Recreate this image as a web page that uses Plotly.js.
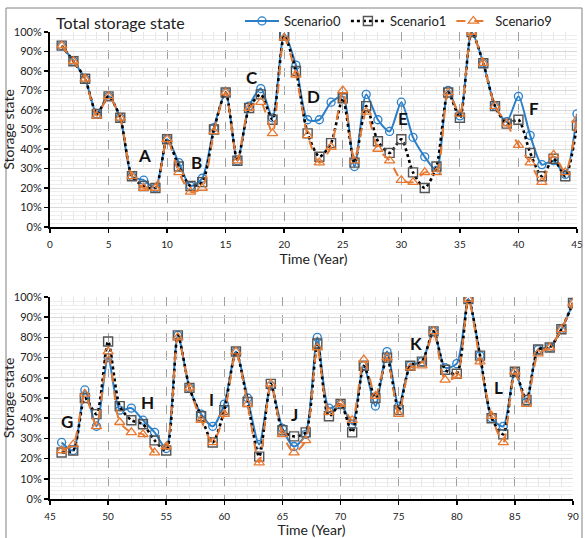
<!DOCTYPE html>
<html>
<head>
<meta charset="utf-8">
<script src="https://cdn.plot.ly/plotly-3.0.1.min.js"></script>
<style>html,body{margin:0;padding:0;background:#fff;}#chart{width:585px;height:538px;}</style>
</head>
<body>
<div id="chart"></div>
<script>
var yearsTop = [1,2,3,4,5,6,7,8,9,10,11,12,13,14,15,16,17,18,19,20,21,22,23,24,25,26,27,28,29,30,31,32,33,34,35,36,37,38,39,40,41,42,43,44,45];
var s0Top = [93,85,76,58,67,56,26,24,20,45,33,21,25,51,69,34,62,71,56,99,83,55,55,64,67,31,68,55,49,64,46,36,29,70,57,100,84,62,54,67,47,32,34,27,58];
var s1Top = [93,85,76,58,67,56,26,21,20,45,31,21,23,50,69,34,61,68,55,98,80,48,36,43,66,33,62,44,38,45,28,20,31,69,56,100,84,62,53,55,38,26,35,26,52];
var s9Top = [93,85,76,57,67,56,26,20,20,45,28,18,20,49,69,34,61,64,48,97,78,47,33,41,70,34,59,40,34,24,23,28,28,69,58,100,84,62,53,42,33,23,37,28,55];

var yearsBot = [46,47,48,49,50,51,52,53,54,55,56,57,58,59,60,61,62,63,64,65,66,67,68,69,70,71,72,73,74,75,76,77,78,79,80,81,82,83,84,85,86,87,88,89,90];
var s0Bot = [28,24,54,36,70,44,45,39,33,25,81,55,42,36,47,73,50,27,56,35,26,32,80,45,47,37,66,46,73,46,66,68,83,65,67,99,71,40,36,63,48,74,75,84,97];
var s1Bot = [23,24,50,42,78,46,39,37,29,24,81,55,41,28,44,73,48,21,57,34,31,33,77,41,47,33,66,50,70,44,66,68,83,64,62,99,71,40,32,63,49,74,75,84,97];
var s9Bot = [24,27,52,36,73,38,33,32,23,26,80,55,39,28,42,73,47,18,57,32,23,29,75,43,47,39,69,51,70,42,65,66,83,59,61,99,68,41,28,63,47,72,75,84,97];

var seriesNames = ['Scenario0','Scenario1','Scenario9'];
var xTicksTop = [0,5,10,15,20,25,30,35,40,45];
var xTicksBot = [45,50,55,60,65,70,75,80,85,90];

var labelsTop = ['A','B','C','D','E','F'];
var labelTopX = [8.1,12.55,17.25,22.5,30.1,41.3];
var labelTopY = [36.5,33,76.5,67,55.5,61];
var labelsBot = ['G','H','I','J','K','L'];
var labelBotX = [46.5,53.4,58.9,66.0,76.5,83.6];
var labelBotY = [38.5,48,49.5,42,77,55];

var BLUE = '#2a7fc8', ORANGE = '#e8782f', GRAYM = '#555555';
var FONT = 'Lato, Open Sans, sans-serif';

function styles(i){
  if(i===0) return {line:{color:BLUE,width:2,shape:'spline',smoothing:0.7},
    marker:{symbol:'circle-open',size:8,color:BLUE,line:{width:1.3,color:BLUE}}};
  if(i===1) return {line:{color:'#000000',width:2.6,dash:'dot',shape:'spline',smoothing:0.7},
    marker:{symbol:'square-open',size:9,color:GRAYM,line:{width:1.4,color:GRAYM}}};
  return {line:{color:ORANGE,width:2,dash:'dash',shape:'spline',smoothing:0.7},
    marker:{symbol:'triangle-up-open',size:9,color:ORANGE,line:{width:1.3,color:ORANGE}}};
}

var dataTop = [s0Top,s1Top,s9Top];
var dataBot = [s0Bot,s1Bot,s9Bot];
var traces = [];
for (var i=0;i<3;i++){
  var st = styles(i);
  traces.push({x:yearsTop,y:dataTop[i],type:'scatter',mode:'lines+markers',name:seriesNames[i],
    line:st.line,marker:st.marker,xaxis:'x',yaxis:'y',legendgroup:seriesNames[i]});
}
for (var j=0;j<3;j++){
  var st2 = styles(j);
  traces.push({x:yearsBot,y:dataBot[j],type:'scatter',mode:'lines+markers',name:seriesNames[j],
    line:st2.line,marker:st2.marker,xaxis:'x2',yaxis:'y2',showlegend:false,legendgroup:seriesNames[j]});
}

function xax(range,ticks,domain,anchor){
  return {domain:domain,anchor:anchor,range:range,tickvals:ticks,ticktext:ticks.map(String),
    showline:true,linecolor:'#000',linewidth:2,ticks:'outside',ticklen:4,tickcolor:'#000',tickwidth:1.5,
    ticklabelstandoff:3,automargin:false,
    showgrid:true,gridcolor:'#a0a0a0',griddash:'dash',gridwidth:1,zeroline:false,
    tickfont:{family:FONT,size:10,color:'#222'},
    minor:{dtick:1,showgrid:true,gridcolor:'#e6e6e6',gridwidth:1},
    title:{text:'Time (Year)',font:{family:FONT,size:14,color:'#222'},standoff:2}};
}
function yax(domain,anchor){
  return {domain:domain,anchor:anchor,range:[0,100],dtick:10,ticksuffix:'%',
    showline:true,linecolor:'#000',linewidth:2,ticks:'outside',ticklen:4,tickcolor:'#000',tickwidth:1.5,
    automargin:false,
    showgrid:true,gridcolor:'#d9d9d9',gridwidth:1,zeroline:false,
    tickfont:{family:FONT,size:11,color:'#222'},
    minor:{dtick:2,showgrid:true,gridcolor:'#eeeeee',gridwidth:1},
    title:{text:'Storage state',font:{family:FONT,size:14,color:'#222'},standoff:2}};
}

var annotations = [];
for (var a=0;a<labelsTop.length;a++){
  annotations.push({x:labelTopX[a],y:labelTopY[a],xref:'x',yref:'y',text:'<b>'+labelsTop[a]+'</b>',
    showarrow:false,font:{family:FONT,size:17,color:'#111'}});
}
for (var b=0;b<labelsBot.length;b++){
  annotations.push({x:labelBotX[b],y:labelBotY[b],xref:'x2',yref:'y2',text:'<b>'+labelsBot[b]+'</b>',
    showarrow:false,font:{family:FONT,size:17,color:'#111'}});
}
annotations.push({x:54/585,y:1-22/538,xref:'paper',yref:'paper',xanchor:'left',yanchor:'middle',
  text:'Total storage state',showarrow:false,font:{family:FONT,size:16,color:'#222'}});

var layout = {
  width:585,height:538,margin:{l:0,r:0,t:0,b:0,autoexpand:false},paper_bgcolor:'#fff',plot_bgcolor:'#fff',
  xaxis:xax([0,45],xTicksTop,[50/585,577/585],'y'),
  yaxis:yax([1-227/538,1-32/538],'x'),
  xaxis2:xax([45,90],xTicksBot,[50/585,573/585],'y2'),
  yaxis2:yax([1-499/538,1-297/538],'x2'),
  showlegend:true,
  legend:{orientation:'h',x:240/585,y:1-6/538,xanchor:'left',yanchor:'top',
    font:{family:FONT,size:13,color:'#222'},itemwidth:34,bgcolor:'rgba(255,255,255,0)',tracegroupgap:0},
  annotations:annotations,
  shapes:[{type:'rect',xref:'paper',yref:'paper',x0:6/585,x1:582/585,y0:-0.02,y1:1-8/538,
    line:{color:'#808080',width:1},fillcolor:'rgba(0,0,0,0)'}]
};

Plotly.newPlot('chart',traces,layout,{displayModeBar:false,staticPlot:true});
</script>
</body>
</html>
